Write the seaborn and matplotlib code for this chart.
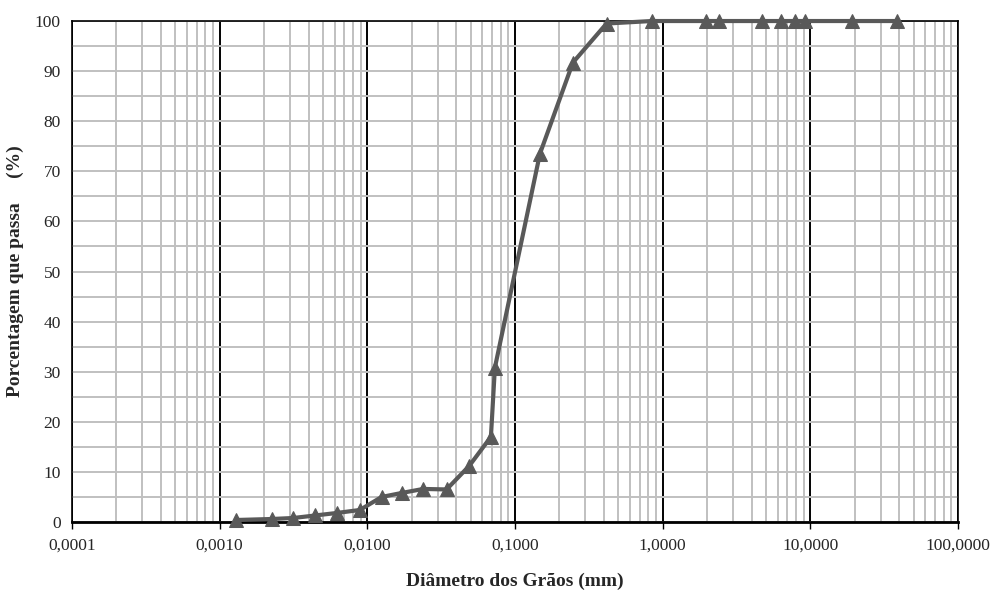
import numpy as np
import pandas as pd
import matplotlib
matplotlib.use('Agg')
import matplotlib.pyplot as plt
import seaborn as sns
from matplotlib.ticker import FixedLocator, LogLocator, FuncFormatter, NullFormatter

# Curva granulométrica
diametro_mm = [0.00129, 0.00225, 0.00315, 0.00442, 0.0062, 0.0089, 0.0125, 0.0171,
               0.0239, 0.0344, 0.049, 0.0687, 0.0731, 0.1475, 0.2466, 0.417,
               0.841, 1.98, 2.40, 4.67, 6.31, 7.85, 9.18, 19.0, 38.4]
passa_pct = [0.4, 0.6, 0.8, 1.3, 1.8, 2.4, 5.0, 5.8, 6.6, 6.5, 11.2, 17.0, 30.8,
             73.5, 91.7, 99.5, 100, 100, 100, 100, 100, 100, 100, 100, 100]

df = pd.DataFrame({'d': diametro_mm, 'p': passa_pct})

sns.set_style('white')
plt.rcParams['font.family'] = ['Liberation Serif', 'DejaVu Serif']

fig = plt.figure(figsize=(9.94, 5.94), dpi=100)
ax = fig.add_axes([0.0724, 0.1212, 0.8914, 0.8434])
ax.set_xscale('log')
ax.set_xlim(1e-4, 100)
ax.set_ylim(0, 100)

# grade
ax.xaxis.set_major_locator(LogLocator(base=10, numticks=10))
ax.xaxis.set_minor_locator(LogLocator(base=10, subs=np.arange(2, 10), numticks=20))
ax.yaxis.set_major_locator(FixedLocator(np.arange(0, 101, 10)))
ax.yaxis.set_minor_locator(FixedLocator(np.arange(5, 100, 10)))
ax.grid(which='minor', axis='x', color='#c0c0c0', linewidth=1.4)
ax.grid(which='both', axis='y', color='#c0c0c0', linewidth=1.4)
ax.grid(which='major', axis='x', color='black', linewidth=1.4)
ax.set_axisbelow(True)

sns.lineplot(data=df, x='d', y='p', ax=ax, color='#595959', linewidth=3,
             marker='^', markersize=10, markeredgecolor='#595959', clip_on=False,
             zorder=5)

ax.xaxis.set_major_formatter(FuncFormatter(lambda v, pos: f'{v:.4f}'.replace('.', ',')))
ax.xaxis.set_minor_formatter(NullFormatter())
ax.tick_params(axis='x', which='major', direction='out', length=5, width=1, color='black',
               labelsize=12.5, pad=6, bottom=True)
ax.tick_params(axis='x', which='minor', length=0)
ax.tick_params(axis='y', which='both', length=0, labelsize=12.5, pad=8)

for s in ax.spines.values():
    s.set_color('black')
    s.set_linewidth(1.2)
ax.spines['bottom'].set_linewidth(2)

ax.set_xlabel('Diâmetro dos Grãos (mm)', fontsize=14, fontweight='bold', labelpad=14)
ax.set_ylabel('Porcentagem que passa     (%)', fontsize=14, fontweight='bold', labelpad=8)

fig.savefig('out.png', dpi=100)
